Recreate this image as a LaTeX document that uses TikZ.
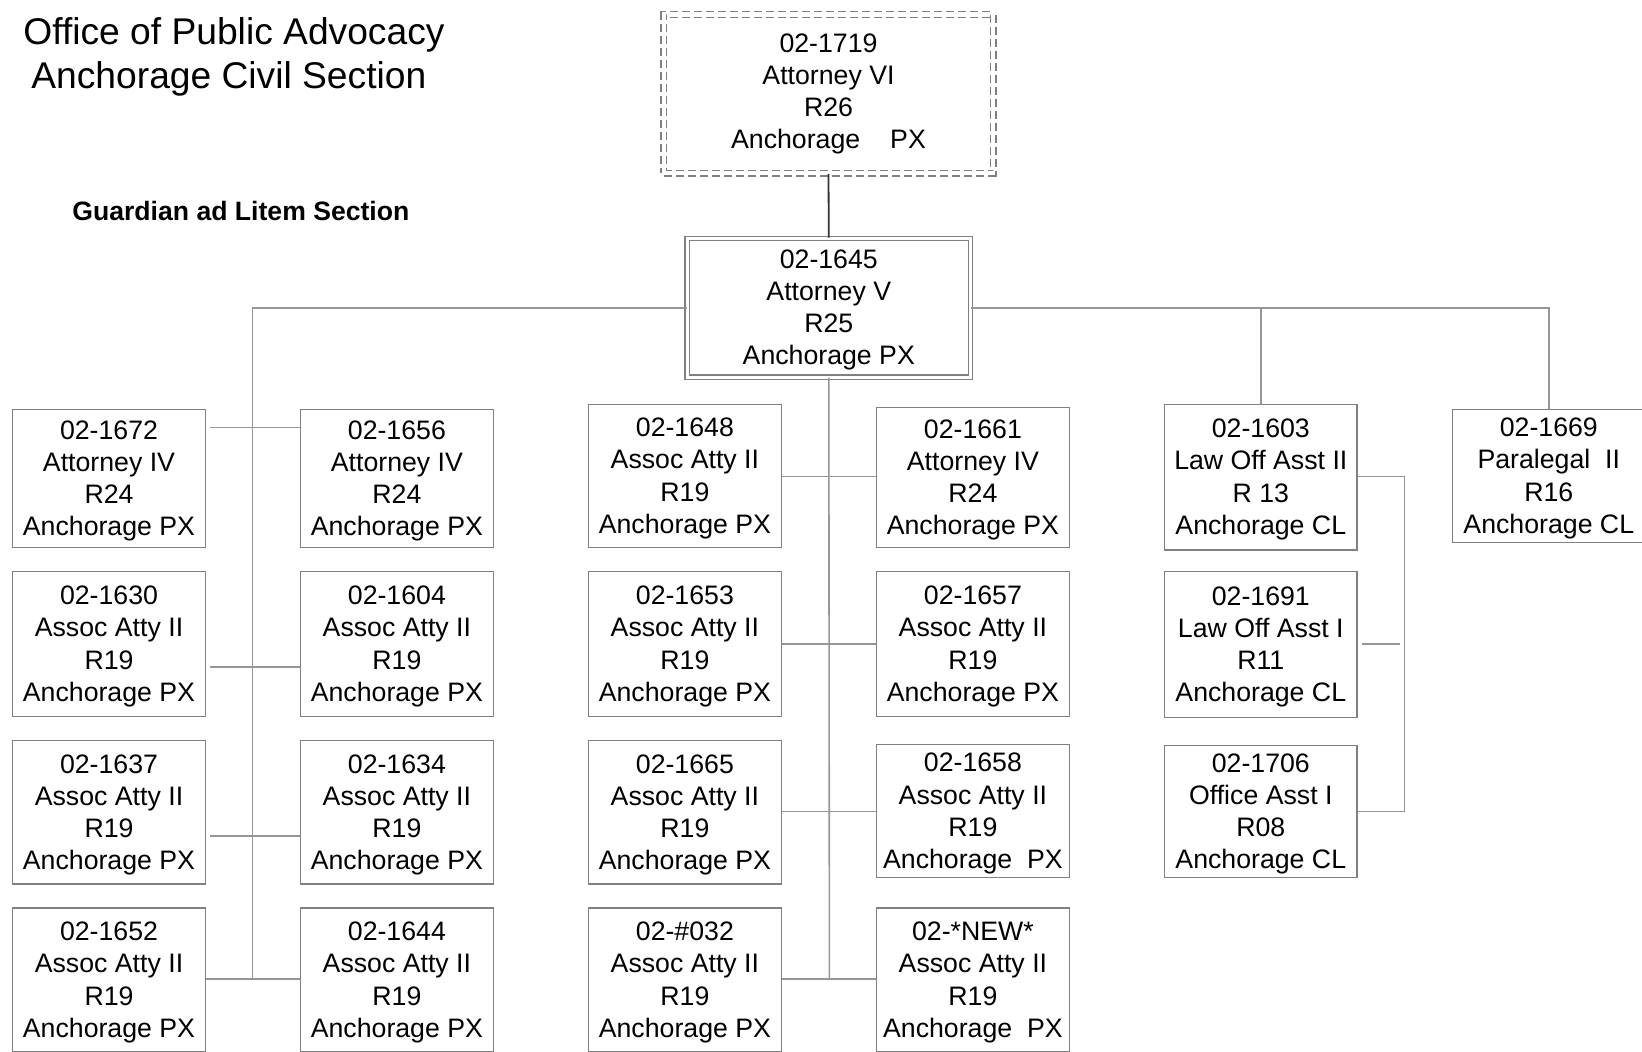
\documentclass[tikz,border=0pt]{standalone}
\usepackage{fontspec}
\setmainfont{Liberation Sans}
\definecolor{boxgray}{RGB}{128,128,128}
\definecolor{linegray}{RGB}{150,150,150}
\newcommand\orgfont{\fontsize{13.35pt}{16.05pt}\selectfont}
\newcommand\obox[5]{\node[orgbox, minimum height=#4] (#1) at (#2,#3) {\rule{0pt}{11.8pt}#5};}
\tikzset{
  orgbox/.style={draw=boxgray, line width=0.7pt, minimum width=96.35pt, align=center, inner sep=0pt, font=\orgfont},
  conn/.style={draw=linegray, line width=0.8pt},
  darkconn/.style={draw=black!80, line width=0.9pt},
  titlefont/.style={font=\fontsize{18.6pt}{22pt}\selectfont, inner sep=0pt, anchor=base west},
}
\begin{document}
\begin{tikzpicture}[x=0.5pt,y=-0.5pt]
\useasboundingbox (0,0) rectangle (1642,1051);
% titles
\node[titlefont] (t1) at (23,44) {Office of Public Advocacy};
\node[titlefont] (t2) at (31,88) {Anchorage Civil Section};
\node[font=\fontsize{13.3pt}{16pt}\selectfont\bfseries, inner sep=0pt, anchor=base west] (gal) at (72,220) {Guardian ad Litem Section};
% top boxes
\node[draw=boxgray, line width=0.65pt, double=white, double distance=2.1pt, dash pattern=on 4pt off 2pt,
      minimum width=164.8pt, minimum height=79.4pt, align=center, inner sep=0pt, font=\orgfont] (top) at (828.5,93.8)
      {02-1719\\Attorney VI\\R26\\Anchorage\hspace{15pt}PX};
\node[draw=boxgray, line width=0.6pt, double=white, double distance=1.5pt,
      minimum width=141.7pt, minimum height=69.4pt, align=center, inner sep=0pt, font=\orgfont] (mid) at (828.8,307.7)
      {\rule{0pt}{11.8pt}02-1645\\Attorney V\\R25\\Anchorage PX};
% column 1
\obox{b1672}{109}{478.6}{69.15pt}{02-1672\\Attorney IV\\R24\\Anchorage PX}
\obox{b1630}{109}{644}{72.25pt}{02-1630\\Assoc Atty II\\R19\\Anchorage PX}
\obox{b1637}{109}{812.1}{71.7pt}{02-1637\\Assoc Atty II\\R19\\Anchorage PX}
\obox{b1652}{109}{979.9}{72pt}{02-1652\\Assoc Atty II\\R19\\Anchorage PX}
% column 2
\obox{b1656}{396.9}{478.6}{69.15pt}{02-1656\\Attorney IV\\R24\\Anchorage PX}
\obox{b1604}{396.9}{644}{72.25pt}{02-1604\\Assoc Atty II\\R19\\Anchorage PX}
\obox{b1634}{396.9}{812.1}{71.7pt}{02-1634\\Assoc Atty II\\R19\\Anchorage PX}
\obox{b1644}{396.9}{979.9}{72pt}{02-1644\\Assoc Atty II\\R19\\Anchorage PX}
% column 3
\obox{b1648}{684.9}{476}{71.75pt}{02-1648\\Assoc Atty II\\R19\\Anchorage PX}
\obox{b1653}{684.9}{644}{72.25pt}{02-1653\\Assoc Atty II\\R19\\Anchorage PX}
\obox{b1665}{684.9}{812.1}{71.7pt}{02-1665\\Assoc Atty II\\R19\\Anchorage PX}
\obox{b032}{684.9}{979.9}{72pt}{02-\#032\\Assoc Atty II\\R19\\Anchorage PX}
% column 4
\obox{b1661}{972.9}{477.5}{70.15pt}{02-1661\\Attorney IV\\R24\\Anchorage PX}
\obox{b1657}{972.9}{644}{72.25pt}{02-1657\\Assoc Atty II\\R19\\Anchorage PX}
\obox{b1658}{972.9}{811.1}{66.5pt}{02-1658\\Assoc Atty II\\R19\\Anchorage\ \ PX}
\obox{bnew}{972.9}{979.9}{72pt}{02-*NEW*\\Assoc Atty II\\R19\\Anchorage\ \ PX}
% column 5
\obox{b1603}{1260.8}{477}{72.8pt}{02-1603\\Law Off Asst II\\R 13\\Anchorage CL}
\obox{b1691}{1260.8}{644.5}{72.75pt}{02-1691\\Law Off Asst I\\R11\\Anchorage CL}
\obox{b1706}{1260.8}{811.6}{66pt}{02-1706\\Office Asst I\\R08\\Anchorage CL}
% column 6
\obox{b1669}{1548.8}{476}{66.55pt}{02-1669\\Paralegal\ \ II\\R16\\Anchorage CL}
% trunk coordinates
\coordinate (L4) at (252.4,979.1);
\coordinate (C4) at (829.4,979.1);
\coordinate (yl1) at (0,427.3);
\coordinate (yl2) at (0,667);
\coordinate (yl3) at (0,835.7);
\coordinate (yr1) at (0,476.5);
\coordinate (yr2) at (0,644);
\coordinate (yr3) at (0,811.6);
\coordinate (yr4) at (0,979.1);
\coordinate (BR) at (1404.3,0);
% connectors
\draw[darkconn] (top.south) -- (mid.north);
\draw[conn] (mid.west) -| (L4);
\draw[conn] (mid.east) -| (b1669.north);
\draw[conn] (b1603.north) -- (b1603.north |- mid.east);
\draw[conn] (mid.south) -- (C4);
% left pairs
\draw[conn, shorten <=2pt] (b1672.east |- yl1) -- (b1656.west |- yl1);
\draw[conn, shorten <=2pt] (b1630.east |- yl2) -- (b1604.west |- yl2);
\draw[conn, shorten <=2pt] (b1637.east |- yl3) -- (b1634.west |- yl3);
\draw[conn] (b1652.east |- yr4) -- (b1644.west |- yr4);
% centre pairs
\draw[conn] (b1648.east |- yr1) -- (b1661.west |- yr1);
\draw[conn] (b1653.east |- yr2) -- (b1657.west |- yr2);
\draw[conn] (b1665.east |- yr3) -- (b1658.west |- yr3);
\draw[conn] (b032.east |- yr4) -- (bnew.west |- yr4);
% right bracket
\draw[conn] (b1603.east |- yr1) -- (BR |- yr1) -- (BR |- yr3) -- (b1706.east |- yr3);
\draw[conn, shorten <=2pt, shorten >=2pt] (b1691.east |- yr2) -- (BR |- yr2);
\end{tikzpicture}
\end{document}
